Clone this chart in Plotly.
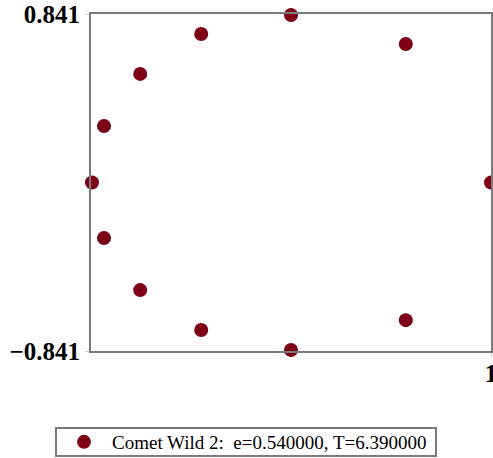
import plotly.graph_objects as go

# Orbit points (normalised by semi-major axis)
x_vals = [0.0, -0.449, -0.754, -0.935, -0.995, -0.935, -0.754, -0.449, 0.0, 0.574, 1.0, 0.574]
y_vals = [0.836, 0.741, 0.542, 0.282, 0.0, -0.277, -0.537, -0.736, -0.836, -0.687, 0.0, 0.691]
series_name = "Comet Wild 2:  e=0.540000, T=6.390000"
y_ticks = [-0.841, 0.841]
y_tick_text = ["\u22120.841", "0.841"]
x_ticks = [1]
x_tick_text = ["1"]

fig = go.Figure()
fig.add_trace(go.Scatter(
    x=x_vals, y=y_vals, mode="markers", name=series_name,
    marker=dict(size=14, color="#7d0016", line=dict(width=0)),
    cliponaxis=False, showlegend=True,
))

tickfont = dict(family="Liberation Serif", size=25, color="black", weight="bold")
axis_common = dict(showgrid=False, zeroline=False, showline=True, linecolor="#7a7a7a",
                   linewidth=2, mirror=True, ticks="outside", ticklen=4,
                   tickcolor="#d0d0d0", tickfont=tickfont, automargin=False,
                   ticklabeloverflow="allow")

H = 337.0  # plot height in px
W = 400.0  # plot width in px

fig.update_layout(
    width=493, height=458,
    margin=dict(l=91, r=2, t=14, b=107, autoexpand=False),
    paper_bgcolor="white", plot_bgcolor="white",
    xaxis=dict(range=[-1, 1], tickvals=x_ticks, ticktext=x_tick_text,
               ticklabelstandoff=-5, **axis_common),
    yaxis=dict(range=[-0.841, 0.841], tickvals=y_ticks, ticktext=y_tick_text, **axis_common),
    showlegend=True,
    legend=dict(x=(56 - 91) / W, xanchor="left", y=-(442 - 351) / H, yanchor="middle",
                borderwidth=0, bgcolor="rgba(0,0,0,0)",
                font=dict(family="Liberation Serif", size=19, color="black"),
                itemwidth=46),
    shapes=[dict(type="rect", xref="paper", yref="paper",
                 x0=(56 - 91) / W, x1=(436 - 91) / W,
                 y0=-(456 - 351) / H, y1=-(428 - 351) / H,
                 line=dict(color="#7a7a7a", width=2), fillcolor="rgba(0,0,0,0)",
                 layer="below")],
)

fig.write_html("out.html", config={"displayModeBar": False},
               post_script="document.body.style.margin='0';document.body.style.overflow='hidden';")
